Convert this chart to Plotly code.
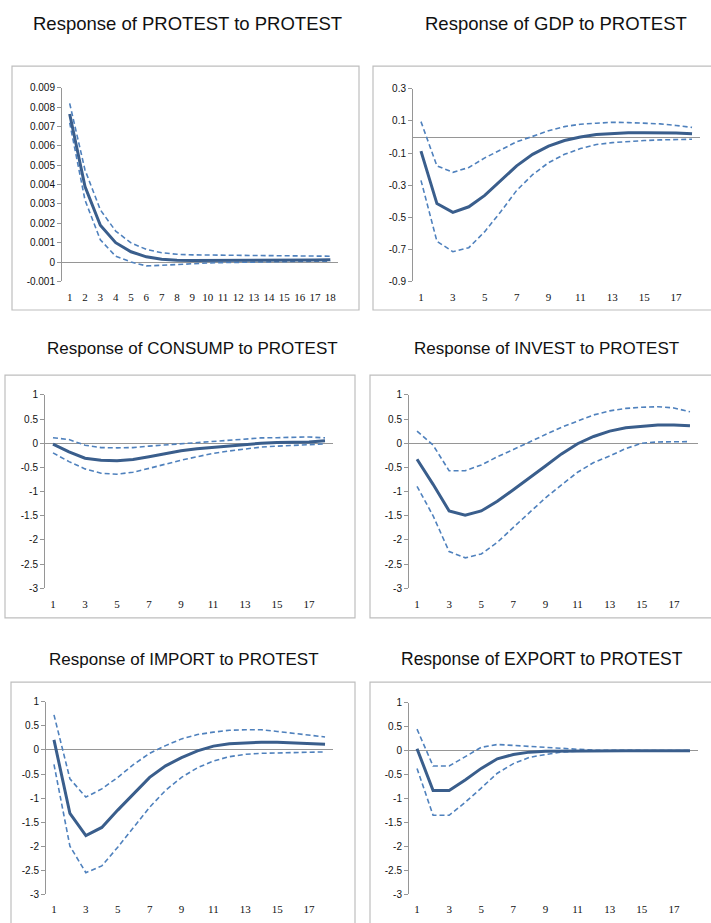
import plotly.graph_objects as go

W, H = 711, 923

periods = list(range(1, 19))

# ---- data (impulse responses, mid / upper / lower bands)
protest_mid = [0.00765, 0.0039, 0.0019, 0.0010, 0.00053, 0.00027, 0.00014, 0.00009, 0.00008,
               0.00008, 0.00008, 0.00008, 0.00009, 0.00009, 0.0001, 0.0001, 0.00011, 0.00012]
protest_up = [0.0082, 0.00476, 0.0027, 0.0016, 0.00099, 0.00065, 0.00048, 0.0004, 0.00037,
              0.00036, 0.00036, 0.00035, 0.00034, 0.00033, 0.00031, 0.0003, 0.0003, 0.0003]
protest_lo = [0.0072, 0.0032, 0.00115, 0.0003, 0.0, -0.0002, -0.00017, -0.00012, -0.00008,
              -0.00005, -0.00003, -0.00001, 0.0, 0.00001, 0.00002, 0.00003, 0.00004, 0.00005]

gdp_mid = [-0.088, -0.415, -0.47, -0.435, -0.364, -0.27, -0.18, -0.108, -0.057,
           -0.022, 0.0, 0.015, 0.02, 0.027, 0.027, 0.027, 0.025, 0.02]
gdp_up = [0.096, -0.18, -0.22, -0.19, -0.13, -0.078, -0.03, 0.004, 0.039,
          0.065, 0.08, 0.086, 0.092, 0.09, 0.086, 0.082, 0.072, 0.06]
gdp_lo = [-0.27, -0.65, -0.715, -0.69, -0.59, -0.466, -0.333, -0.235, -0.16,
          -0.108, -0.072, -0.047, -0.035, -0.027, -0.022, -0.018, -0.016, -0.014]

consump_mid = [-0.02, -0.18, -0.31, -0.35, -0.36, -0.335, -0.28, -0.21, -0.155,
               -0.115, -0.088, -0.054, -0.02, 0.0, 0.014, 0.02, 0.027, 0.05]
consump_up = [0.115, 0.075, -0.04, -0.09, -0.095, -0.09, -0.06, -0.035, -0.007,
              0.02, 0.048, 0.075, 0.095, 0.11, 0.115, 0.12, 0.13, 0.11]
consump_lo = [-0.2, -0.38, -0.53, -0.62, -0.64, -0.6, -0.52, -0.43, -0.35,
              -0.28, -0.21, -0.16, -0.115, -0.08, -0.06, -0.04, -0.027, -0.014]

invest_mid = [-0.33, -0.85, -1.4, -1.49, -1.4, -1.2, -0.96, -0.72, -0.47,
              -0.22, -0.01, 0.14, 0.25, 0.32, 0.355, 0.375, 0.375, 0.36]
invest_up = [0.25, -0.04, -0.57, -0.57, -0.45, -0.28, -0.13, 0.03, 0.18,
             0.33, 0.46, 0.585, 0.67, 0.72, 0.745, 0.755, 0.73, 0.65]
invest_lo = [-0.89, -1.5, -2.24, -2.37, -2.29, -2.05, -1.74, -1.44, -1.13,
             -0.86, -0.6, -0.4, -0.265, -0.11, 0.0, 0.027, 0.034, 0.034]

import_mid = [0.21, -1.32, -1.78, -1.61, -1.25, -0.91, -0.57, -0.33, -0.16,
              -0.02, 0.08, 0.13, 0.147, 0.16, 0.16, 0.147, 0.13, 0.12]
import_up = [0.73, -0.6, -0.98, -0.81, -0.57, -0.3, -0.07, 0.09, 0.23,
             0.32, 0.37, 0.41, 0.42, 0.42, 0.385, 0.35, 0.32, 0.27]
import_lo = [-0.3, -2.0, -2.55, -2.41, -2.02, -1.6, -1.19, -0.84, -0.57,
             -0.37, -0.23, -0.14, -0.09, -0.07, -0.06, -0.045, -0.04, -0.04]

export_mid = [0.04, -0.83, -0.83, -0.61, -0.37, -0.17, -0.08, -0.03, -0.01,
              -0.005, 0.0, 0.0, 0.0, 0.0, 0.0, 0.0, 0.0, 0.0]
export_up = [0.45, -0.32, -0.32, -0.12, 0.07, 0.13, 0.11, 0.09, 0.06,
             0.04, 0.02, 0.01, 0.008, 0.006, 0.004, 0.003, 0.002, 0.002]
export_lo = [-0.37, -1.35, -1.35, -1.08, -0.78, -0.47, -0.27, -0.14, -0.08,
             -0.03, -0.01, -0.005, -0.004, -0.003, -0.002, -0.002, -0.002, -0.002]

titles = ["Response of PROTEST to PROTEST", "Response of GDP to PROTEST",
          "Response of CONSUMP to PROTEST", "Response of INVEST to PROTEST",
          "Response of IMPORT to PROTEST", "Response of EXPORT to PROTEST"]

series = [(protest_mid, protest_up, protest_lo), (gdp_mid, gdp_up, gdp_lo),
          (consump_mid, consump_up, consump_lo), (invest_mid, invest_up, invest_lo),
          (import_mid, import_up, import_lo), (export_mid, export_up, export_lo)]

ytick_p1 = [0.009, 0.008, 0.007, 0.006, 0.005, 0.004, 0.003, 0.002, 0.001, 0, -0.001]
ytext_p1 = ["0.009", "0.008", "0.007", "0.006", "0.005", "0.004", "0.003", "0.002", "0.001", "0", "-0.001"]
ytick_p2 = [0.3, 0.1, -0.1, -0.3, -0.5, -0.7, -0.9]
ytext_p2 = ["0.3", "0.1", "-0.1", "-0.3", "-0.5", "-0.7", "-0.9"]
ytick_std = [1, 0.5, 0, -0.5, -1, -1.5, -2, -2.5, -3]
ytext_std = ["1", "0.5", "0", "-0.5", "-1", "-1.5", "-2", "-2.5", "-3"]
xtick_all = periods
xtick_odd = [1, 3, 5, 7, 9, 11, 13, 15, 17]

# ---- layout geometry (pixels)
panels = [
    dict(xd=(62, 338), yd=(83, 279), yr=(-0.001, 0.009), yt=ytick_p1, ytt=ytext_p1, xt=xtick_all,
         box=(12, 61, 359, 308), tx=187, ty=18, ts=18.5),
    dict(xd=(413, 700), yd=(84, 279), yr=(-0.9, 0.3), yt=ytick_p2, ytt=ytext_p2, xt=xtick_odd,
         box=(373, 61, 712, 308), tx=556, ty=18, ts=18.5),
    dict(xd=(45, 333), yd=(394, 590), yr=(-3, 1), yt=ytick_std, ytt=ytext_std, xt=xtick_odd,
         box=(5, 374, 355, 620), tx=193, ty=347, ts=17),
    dict(xd=(409, 698), yd=(394, 590), yr=(-3, 1), yt=ytick_std, ytt=ytext_std, xt=xtick_odd,
         box=(370, 374, 712, 620), tx=546, ty=347, ts=17),
    dict(xd=(46, 333), yd=(705, 900), yr=(-3, 1), yt=ytick_std, ytt=ytext_std, xt=xtick_odd,
         box=(11, 685, 355, 930), tx=184, ty=662, ts=17),
    dict(xd=(409, 698), yd=(706, 900), yr=(-3, 1), yt=ytick_std, ytt=ytext_std, xt=xtick_odd,
         box=(370, 685, 712, 930), tx=542, ty=662, ts=17.5),
]

def fx(px):
    return px / W

def fy(py):
    return 1 - py / H

MAIN = "rgb(58,94,140)"
BAND = "rgb(79,129,189)"
AXIS = "rgb(150,150,150)"

fig = go.Figure()
shapes = []
annotations = []

for i, (p, (mid, up, lo)) in enumerate(zip(panels, series)):
    n = i + 1
    xa = "x" if n == 1 else f"x{n}"
    ya = "y" if n == 1 else f"y{n}"
    for vals, color, width, dash in [(up, BAND, 1.6, "5px,3px"), (lo, BAND, 1.6, "5px,3px"),
                                     (mid, MAIN, 3, "solid")]:
        fig.add_trace(go.Scatter(x=periods, y=vals, mode="lines", xaxis=xa, yaxis=ya,
                                 line=dict(color=color, width=width, dash=dash),
                                 showlegend=False, hoverinfo="skip"))
    xkey = "xaxis" if n == 1 else f"xaxis{n}"
    ykey = "yaxis" if n == 1 else f"yaxis{n}"
    fig.layout[xkey] = dict(domain=[fx(p["xd"][0]), fx(p["xd"][1])], anchor=ya,
                            range=[0.5, 18.5], tickvals=p["xt"], ticktext=[str(v) for v in p["xt"]],
                            showgrid=False, zeroline=False, showline=False,
                            ticks="outside", ticklen=5, tickcolor="rgba(0,0,0,0)",
                            tickfont=dict(family="Liberation Serif", size=11, color="#111"))
    fig.layout[ykey] = dict(domain=[fy(p["yd"][1]), fy(p["yd"][0])], anchor=xa,
                            range=list(p["yr"]), tickvals=p["yt"], ticktext=p["ytt"],
                            showgrid=False, zeroline=True, zerolinecolor=AXIS, zerolinewidth=1,
                            showline=True, linecolor=AXIS, linewidth=1,
                            ticks="outside", ticklen=4, tickcolor=AXIS,
                            tickfont=dict(family="Liberation Sans", size=10, color="#111"))
    bx0, by0, bx1, by1 = p["box"]
    shapes.append(dict(type="rect", xref="paper", yref="paper",
                       x0=fx(bx0), x1=fx(bx1), y0=fy(by1), y1=fy(by0),
                       line=dict(color="rgb(190,190,190)", width=1.2), layer="below"))
    annotations.append(dict(text=titles[i], xref="paper", yref="paper",
                            x=fx(p["tx"]), y=fy(p["ty"]), xanchor="center", yanchor="middle",
                            showarrow=False,
                            font=dict(family="Liberation Sans", size=p["ts"], color="#111")))

fig.update_layout(width=W, height=H, margin=dict(l=0, r=0, t=0, b=0),
                  paper_bgcolor="white", plot_bgcolor="white",
                  shapes=shapes, annotations=annotations)

fig.write_html("out.html")
